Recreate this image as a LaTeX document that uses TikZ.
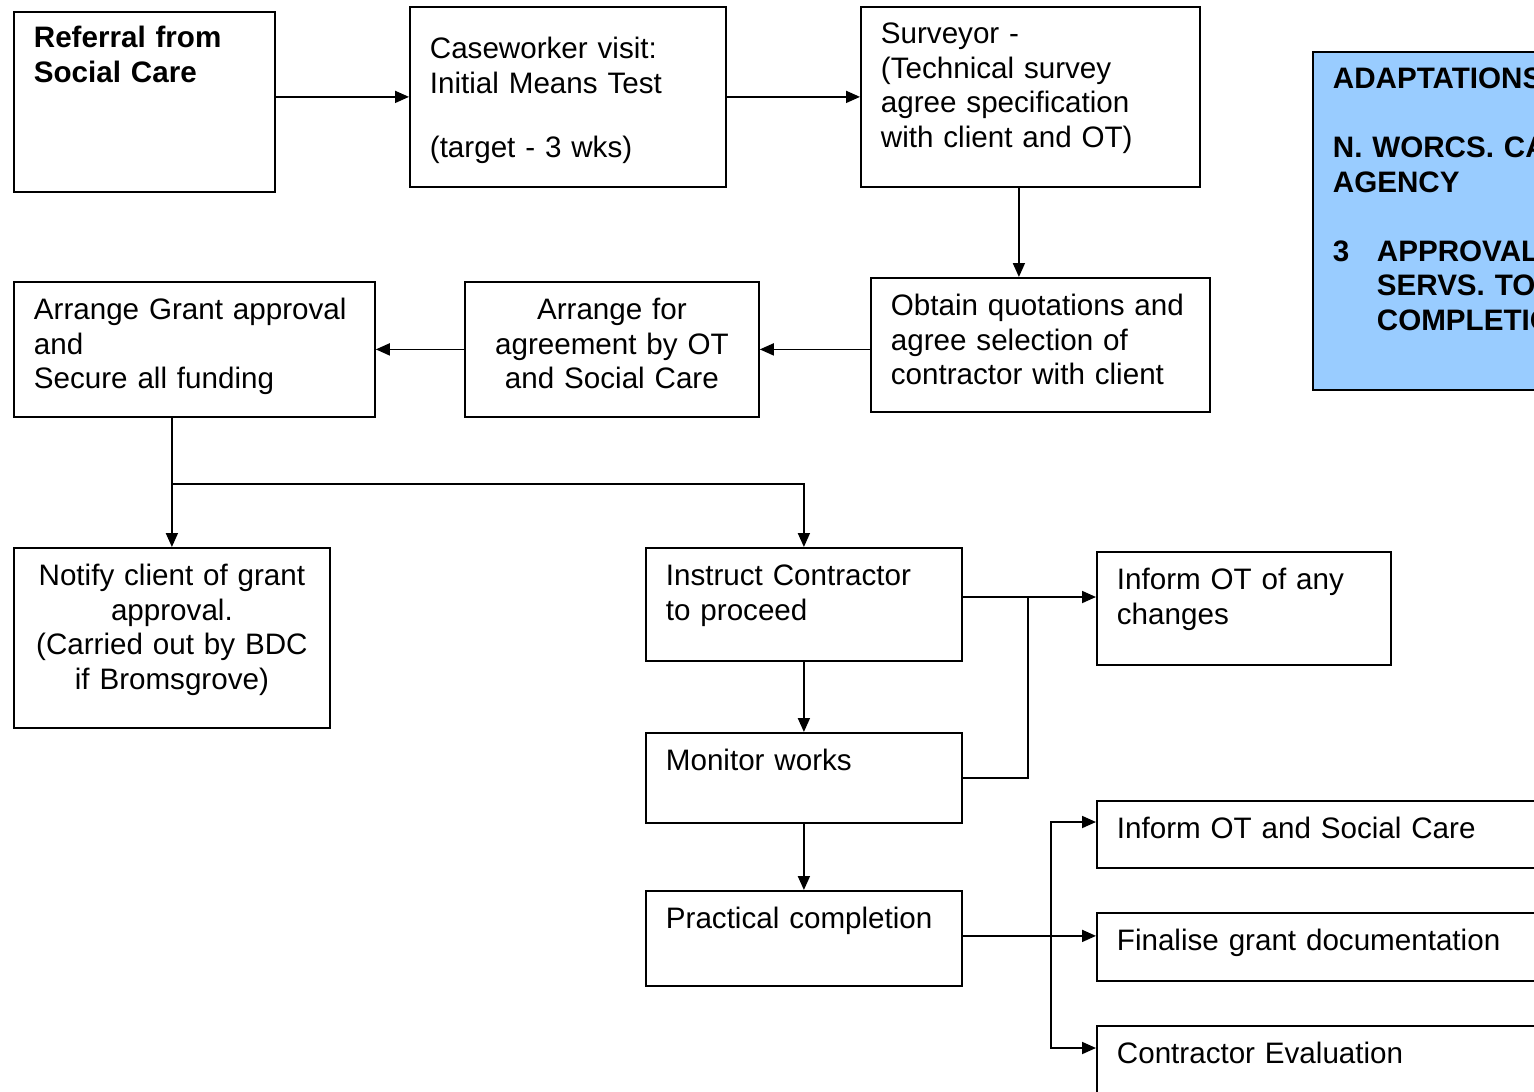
\documentclass[tikz,border=0pt]{standalone}
\usepackage{fontspec}
\setmainfont{Liberation Sans}
\usetikzlibrary{arrows.meta}
\definecolor{adaptblue}{HTML}{99CCFF}

\begin{document}
\begin{tikzpicture}[x=0.5pt,y=-0.5pt,
  box/.style={draw,line width=0.9pt,anchor=north west,align=left,inner xsep=10pt,inner ysep=8pt,
    text height=11pt,font=\fontsize{14.8}{17.25}\selectfont},
  arr/.style={line width=0.9pt,-{Triangle[length=7pt,width=6pt]}}]
  \useasboundingbox (0,0) rectangle (1534,1091);
  % top row
  \node[box,text height=10pt,text width=110.5pt,text depth=64pt,font=\fontsize{14.8}{17.25}\selectfont\bfseries] (ref) at (13,11) {Referral from\\Social Care};
  \node[box,text height=18pt,text width=138pt,text depth=56pt] (case) at (409,6) {Caseworker visit:\\Initial Means Test\\[15pt](target - 3 wks)};
  \node[box,text height=10.5pt,text width=149.5pt,text depth=63.5pt] (surv) at (860,6) {Surveyor -\\(Technical survey\\agree specification\\with client and OT)};
  \node[box,fill=adaptblue,text height=10.5pt,text width=180pt,text depth=142.5pt,font=\fontsize{14.8}{17.25}\selectfont\bfseries] (title) at (1312,51)
    {ADAPTATIONS\\[17.25pt]N. WORCS. CARE\\AGENCY\\[17.25pt]\makebox[22pt][l]{3}APPROVAL\\\hspace*{22pt}SERVS. TO\\\hspace*{22pt}COMPLETION};
  % second row
  \node[box,text width=160.5pt,text depth=40.5pt] (grant) at (13,281) {Arrange Grant approval\\and\\Secure all funding};
  \node[box,align=center,text width=127pt,text depth=40.5pt] (agree) at (464,281) {Arrange for\\agreement by OT\\and Social Care};
  \node[box,text width=149.5pt,text depth=40pt] (quote) at (870,277) {Obtain quotations and\\agree selection of\\contractor with client};
  % lower part
  \node[box,align=center,text width=138pt,text depth=63pt] (notify) at (13,547) {Notify client of grant\\approval.\\(Carried out by BDC\\if Bromsgrove)};
  \node[box,text width=138pt,text depth=29.5pt] (instr) at (645,547) {Instruct Contractor\\to proceed};
  \node[box,text width=127pt,text depth=29.5pt] (inf1) at (1096,551) {Inform OT of any\\changes};
  \node[box,text width=138pt,text depth=18pt] (mon) at (645,732) {Monitor works};
  \node[box,text width=138pt,text depth=20.5pt] (prac) at (645,890) {Practical completion};
  \node[box,text width=230pt,text depth=6.5pt] (inf2) at (1096,800) {Inform OT and Social Care};
  \node[box,text width=230pt,text depth=7pt] (fin) at (1096,912) {Finalise grant documentation};
  \node[box,text width=230pt,text depth=7pt] (eval) at (1096,1025) {Contractor Evaluation};

  \coordinate (split) at (171,484);
  \coordinate (j1) at (1028,597);
  \coordinate (v1) at (1051,822);
  \coordinate (v2) at (1051,1048);

  \draw[arr] (ref.east |- case.west) -- (case.west);
  \draw[arr] (case.east) -- (surv.west);
  \draw[arr] ([xshift=-5.75pt]surv.south) -- ([xshift=-5.75pt]surv.south |- quote.north);
  \draw[arr] (quote.west |- agree.east) -- (agree.east);
  \draw[arr] (agree.west) -- (grant.east);
  \draw[arr] (grant.south -| notify.north) -- (notify.north);
  \draw[arr] (split) -| (instr.north);
  \draw[arr] (instr.east |- j1) -- (inf1.west |- j1);
  \draw[line width=0.9pt] (mon.east) -| (j1);
  \draw[arr] (instr.south) -- (mon.north);
  \draw[arr] (mon.south) -- (prac.north);
  \draw[arr] ([yshift=1.25pt]prac.east) -- ([yshift=1.25pt]prac.east -| fin.west);
  \draw[arr] (v2) |- (inf2.west |- v1);
  \draw[arr] (v1) |- (eval.west |- v2);
\end{tikzpicture}
\end{document}
